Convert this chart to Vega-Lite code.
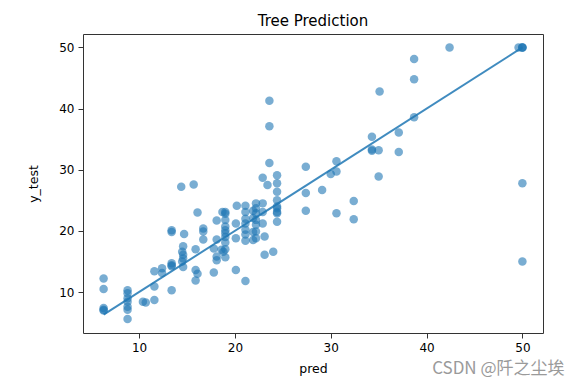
{
  "$schema": "https://vega.github.io/schema/vega-lite/v6.json",
  "width": 460,
  "height": 299,
  "autosize": {"type": "none"},
  "padding": {"left": 83, "top": 34, "right": 37, "bottom": 53},
  "background": "white",
  "title": {"text": "Tree Prediction", "font": "DejaVu Sans", "fontSize": 15, "fontWeight": "normal", "color": "#000", "anchor": "middle", "offset": 5},
  "config": {
    "view": {"stroke": "#333", "strokeWidth": 1},
    "axis": {"grid": false, "domain": false, "tickColor": "#333", "tickSize": 5, "labelFont": "DejaVu Sans", "labelFontSize": 12, "labelColor": "#000", "titleFont": "DejaVu Sans", "titleFontSize": 12.5, "titleFontWeight": "normal", "titleColor": "#000", "labelPadding": 4}
  },
  "datasets": {
    "pts": [
      {"pred": 6.3, "y_test": 12.2}, {"pred": 6.3, "y_test": 10.5}, {"pred": 6.3, "y_test": 7.4}, {"pred": 6.3, "y_test": 7.1}, {"pred": 6.3, "y_test": 7.0},
      {"pred": 8.8, "y_test": 10.3}, {"pred": 8.8, "y_test": 9.8}, {"pred": 8.8, "y_test": 9.0}, {"pred": 8.8, "y_test": 8.4}, {"pred": 8.8, "y_test": 7.6}, {"pred": 8.8, "y_test": 7.1}, {"pred": 8.8, "y_test": 5.6},
      {"pred": 10.4, "y_test": 8.4}, {"pred": 10.7, "y_test": 8.3}, {"pred": 11.6, "y_test": 8.7}, {"pred": 11.6, "y_test": 10.9}, {"pred": 11.6, "y_test": 13.4},
      {"pred": 12.4, "y_test": 13.9}, {"pred": 12.4, "y_test": 13.1},
      {"pred": 13.4, "y_test": 14.7}, {"pred": 13.4, "y_test": 14.2}, {"pred": 13.4, "y_test": 14.4}, {"pred": 13.4, "y_test": 20.1}, {"pred": 13.4, "y_test": 19.8}, {"pred": 13.4, "y_test": 10.3},
      {"pred": 14.4, "y_test": 27.2}, {"pred": 15.7, "y_test": 27.6},
      {"pred": 14.7, "y_test": 19.5}, {"pred": 14.5, "y_test": 16.6}, {"pred": 14.6, "y_test": 17.5}, {"pred": 14.6, "y_test": 15.5}, {"pred": 14.6, "y_test": 14.1}, {"pred": 14.5, "y_test": 15.0}, {"pred": 14.6, "y_test": 16.1},
      {"pred": 15.9, "y_test": 17.0}, {"pred": 15.9, "y_test": 13.6}, {"pred": 16.1, "y_test": 13.0}, {"pred": 15.9, "y_test": 11.9}, {"pred": 16.1, "y_test": 23.0},
      {"pred": 16.7, "y_test": 20.4}, {"pred": 16.7, "y_test": 19.9}, {"pred": 16.7, "y_test": 18.6},
      {"pred": 17.8, "y_test": 17.1}, {"pred": 17.8, "y_test": 13.2},
      {"pred": 18.1, "y_test": 15.2}, {"pred": 18.1, "y_test": 15.8}, {"pred": 18.1, "y_test": 18.6}, {"pred": 18.1, "y_test": 21.7},
      {"pred": 18.7, "y_test": 23.1}, {"pred": 19.0, "y_test": 23.1}, {"pred": 19.0, "y_test": 22.8}, {"pred": 19.0, "y_test": 21.8}, {"pred": 19.0, "y_test": 20.7}, {"pred": 19.0, "y_test": 20.1}, {"pred": 19.0, "y_test": 19.6}, {"pred": 19.0, "y_test": 19.0}, {"pred": 19.0, "y_test": 18.1}, {"pred": 19.0, "y_test": 17.0}, {"pred": 19.0, "y_test": 15.7},
      {"pred": 18.6, "y_test": 16.9}, {"pred": 18.8, "y_test": 16.6},
      {"pred": 20.1, "y_test": 18.8}, {"pred": 20.1, "y_test": 21.2}, {"pred": 20.2, "y_test": 24.1}, {"pred": 20.1, "y_test": 13.6},
      {"pred": 21.1, "y_test": 24.1}, {"pred": 21.1, "y_test": 23.1}, {"pred": 21.1, "y_test": 22.0}, {"pred": 21.1, "y_test": 21.2}, {"pred": 21.1, "y_test": 20.2}, {"pred": 21.1, "y_test": 19.4}, {"pred": 21.1, "y_test": 18.4}, {"pred": 21.1, "y_test": 11.8},
      {"pred": 21.9, "y_test": 23.3}, {"pred": 21.9, "y_test": 22.1}, {"pred": 21.9, "y_test": 19.8}, {"pred": 21.9, "y_test": 18.5},
      {"pred": 22.2, "y_test": 24.5}, {"pred": 22.2, "y_test": 23.7}, {"pred": 22.2, "y_test": 22.9}, {"pred": 22.2, "y_test": 21.8}, {"pred": 22.2, "y_test": 21.0}, {"pred": 22.2, "y_test": 19.9}, {"pred": 22.2, "y_test": 18.8},
      {"pred": 22.9, "y_test": 24.5}, {"pred": 22.9, "y_test": 23.1}, {"pred": 22.9, "y_test": 21.2}, {"pred": 23.1, "y_test": 19.1}, {"pred": 23.1, "y_test": 16.1}, {"pred": 24.0, "y_test": 16.6},
      {"pred": 22.9, "y_test": 28.7}, {"pred": 23.4, "y_test": 27.5}, {"pred": 23.6, "y_test": 41.3}, {"pred": 23.6, "y_test": 37.1}, {"pred": 23.6, "y_test": 31.1},
      {"pred": 24.4, "y_test": 29.1}, {"pred": 24.4, "y_test": 27.8}, {"pred": 24.4, "y_test": 26.4}, {"pred": 24.4, "y_test": 25.0}, {"pred": 24.4, "y_test": 24.0}, {"pred": 24.4, "y_test": 23.7}, {"pred": 24.4, "y_test": 23.1}, {"pred": 24.4, "y_test": 22.9}, {"pred": 24.4, "y_test": 21.5},
      {"pred": 27.4, "y_test": 30.5}, {"pred": 27.4, "y_test": 26.2}, {"pred": 27.4, "y_test": 23.3},
      {"pred": 29.1, "y_test": 26.7}, {"pred": 30.0, "y_test": 29.3}, {"pred": 30.6, "y_test": 29.7}, {"pred": 30.6, "y_test": 31.4}, {"pred": 30.6, "y_test": 22.9},
      {"pred": 32.4, "y_test": 24.9}, {"pred": 32.4, "y_test": 21.9},
      {"pred": 34.3, "y_test": 35.4}, {"pred": 34.3, "y_test": 33.3}, {"pred": 34.3, "y_test": 33.1}, {"pred": 35.0, "y_test": 33.2}, {"pred": 35.0, "y_test": 28.9}, {"pred": 35.1, "y_test": 42.8},
      {"pred": 37.1, "y_test": 36.1}, {"pred": 37.1, "y_test": 32.9},
      {"pred": 38.7, "y_test": 48.1}, {"pred": 38.7, "y_test": 44.8}, {"pred": 38.7, "y_test": 38.6},
      {"pred": 42.4, "y_test": 50.0}, {"pred": 49.6, "y_test": 50.0}, {"pred": 50.0, "y_test": 50.0}, {"pred": 50.0, "y_test": 50.0}, {"pred": 50.0, "y_test": 50.0},
      {"pred": 50.0, "y_test": 27.8}, {"pred": 50.0, "y_test": 15.0}
    ],
    "fit": [
      {"pred": 6.3, "y_test": 6.3}, {"pred": 50.0, "y_test": 50.0}
    ],
    "mark": [
      {"note": "CSDN @阡之尘埃"}
    ]
  },
  "layer": [
    {
      "data": {"name": "pts"},
      "mark": {"type": "circle", "size": 72, "color": "#1f77b4", "opacity": 0.6},
      "encoding": {
        "x": {"field": "pred", "type": "quantitative", "title": "pred", "scale": {"domain": [4.15, 52.15], "nice": false, "zero": false}, "axis": {"values": [10, 20, 30, 40, 50], "titlePadding": 9}},
        "y": {"field": "y_test", "type": "quantitative", "title": "y_test", "scale": {"domain": [3.3, 52.2], "nice": false, "zero": false}, "axis": {"values": [10, 20, 30, 40, 50], "titlePadding": 18}}
      }
    },
    {
      "data": {"name": "fit"},
      "mark": {"type": "line", "color": "#1f77b4", "opacity": 0.85, "strokeWidth": 2},
      "encoding": {
        "x": {"field": "pred", "type": "quantitative"},
        "y": {"field": "y_test", "type": "quantitative"}
      }
    },
    {
      "data": {"name": "mark"},
      "mark": {"type": "text", "align": "right", "baseline": "middle", "font": "Noto Sans CJK SC", "fontSize": 17, "color": "#9a9a9a"},
      "encoding": {
        "x": {"datum": 54.4, "type": "quantitative"},
        "y": {"datum": -2.6, "type": "quantitative"},
        "text": {"field": "note"}
      }
    }
  ]
}
